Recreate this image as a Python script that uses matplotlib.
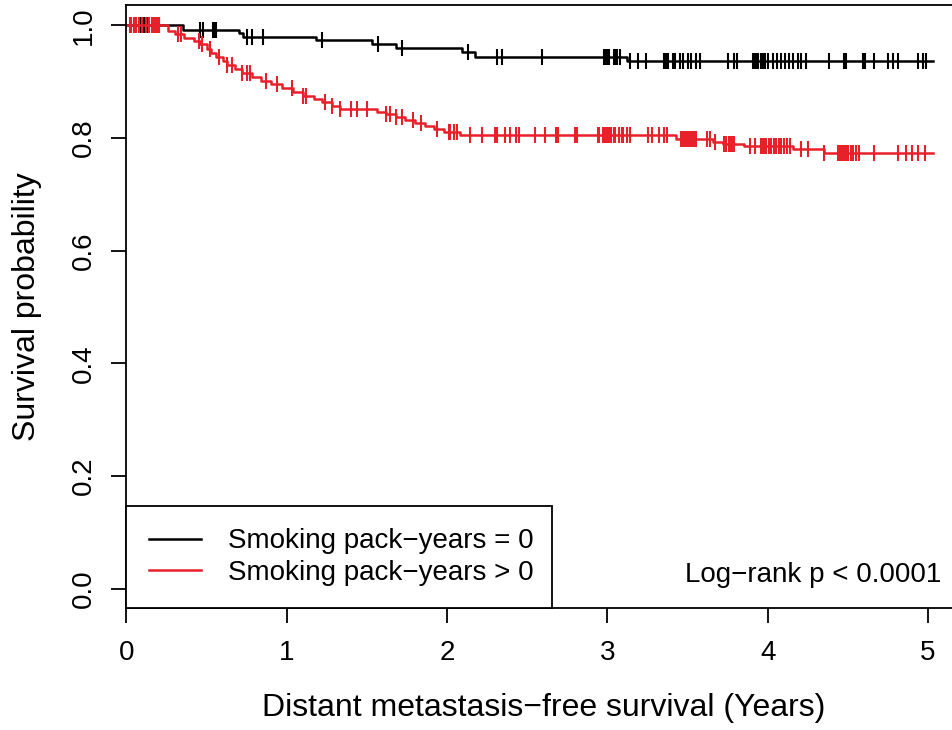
import numpy as np
import matplotlib
matplotlib.use('Agg')
import matplotlib.pyplot as plt


############################################################################
## data
############################################################################
## group 1: smoking pack-years = 0 (step times and survival after the step)
black_times = [0.0, 0.35, 0.70, 0.73, 1.18, 1.53, 1.68, 2.09, 2.175, 3.12]
black_surv  = [1.0, 0.992, 0.986, 0.980, 0.973, 0.967, 0.960, 0.952, 0.943, 0.936]
black_cens  = [0.05, 0.09, 0.095, 0.105, 0.115, 0.126, 0.19, 0.20,
               0.46, 0.48, 0.54, 0.55, 0.56, 0.75, 0.78, 0.85, 1.22, 1.57, 1.72,
               2.13, 2.31, 2.34, 2.59,
               2.98, 2.99, 3.00, 3.01, 3.04, 3.05, 3.06, 3.08, 3.14, 3.19, 3.24,
               3.35, 3.36, 3.37, 3.38, 3.41, 3.42, 3.45, 3.47, 3.50, 3.52, 3.55, 3.58,
               3.75, 3.79, 3.81, 3.91, 3.92, 3.93, 3.94, 3.96, 3.97, 3.98, 4.00,
               4.03, 4.06, 4.08, 4.11, 4.13, 4.16, 4.19, 4.21, 4.24,
               4.38, 4.475, 4.485, 4.595, 4.605, 4.66, 4.75, 4.78, 4.81,
               4.94, 4.97, 4.99]

## group 2: smoking pack-years > 0
red_times = [0.0, 0.26, 0.30, 0.36, 0.42, 0.46, 0.50, 0.53, 0.56, 0.60, 0.63,
             0.68, 0.72, 0.78, 0.84, 0.90, 0.97, 1.04, 1.10, 1.17, 1.22, 1.28,
             1.33, 1.56, 1.62, 1.68, 1.74, 1.80, 1.86, 1.92, 1.98, 2.08,
             3.43, 3.66, 3.72, 3.85, 4.16, 4.35]
red_surv  = [1.0, 0.990, 0.985, 0.978, 0.972, 0.966, 0.958, 0.951, 0.943, 0.936, 0.930,
             0.922, 0.915, 0.908, 0.901, 0.895, 0.888, 0.881, 0.875, 0.869, 0.863, 0.857,
             0.851, 0.846, 0.842, 0.837, 0.832, 0.827, 0.821, 0.816, 0.811, 0.806,
             0.799, 0.792, 0.789, 0.786, 0.780, 0.774]
red_cens  = [0.02, 0.03, 0.05, 0.06, 0.08, 0.10, 0.12, 0.14, 0.16, 0.17, 0.18, 0.19, 0.20,
             0.32, 0.34, 0.45, 0.47, 0.52, 0.58, 0.63, 0.66, 0.72, 0.75, 0.77, 0.87,
             0.94, 1.03, 1.10, 1.12, 1.24, 1.28,
             1.33, 1.40, 1.44, 1.50, 1.62, 1.645, 1.68, 1.72, 1.79, 1.84, 1.94,
             2.01, 2.02, 2.04, 2.06, 2.14, 2.22, 2.30, 2.31, 2.36, 2.39, 2.43, 2.45,
             2.55, 2.61, 2.68, 2.69, 2.80, 2.81,
             2.94, 2.95, 2.97, 2.98, 2.99, 3.00, 3.01, 3.02, 3.04, 3.05, 3.07, 3.09,
             3.10, 3.12, 3.14, 3.25, 3.28, 3.32, 3.35, 3.37,
             3.46, 3.47, 3.48, 3.49, 3.50, 3.51, 3.52, 3.53, 3.54, 3.55,
             3.62, 3.64, 3.67, 3.73, 3.74, 3.76, 3.77, 3.78, 3.79, 3.89, 3.92,
             3.96, 3.97, 3.98, 3.99, 4.01, 4.02, 4.04, 4.05, 4.07, 4.08, 4.10, 4.12, 4.14,
             4.21, 4.25, 4.35,
             4.44, 4.45, 4.46, 4.47, 4.48, 4.49, 4.50, 4.52, 4.53, 4.55, 4.57,
             4.66, 4.81, 4.86, 4.90, 4.94, 4.98]

end_time = 5.03
labels = ['Smoking pack\u2212years = 0', 'Smoking pack\u2212years > 0']
colors = ['black', '#e8202a']
pvalue_text = 'Log\u2212rank p < 0.0001'


############################################################################
## survival value of a step function at given times
############################################################################
def surv_at(times, surv, t):
    times = np.asarray(times)
    surv = np.asarray(surv)
    idx = np.searchsorted(times, np.asarray(t), side='right') - 1
    return surv[np.clip(idx, 0, None)]


############################################################################
## plot
############################################################################
plt.rcParams['font.family'] = ['Liberation Sans', 'DejaVu Sans']

fig = plt.figure(figsize=(9.53, 7.30), dpi=100)
ax = fig.add_axes([0.1327, 0.1671, 0.8748, 0.8261])

groups = [(black_times, black_surv, black_cens),
          (red_times, red_surv, red_cens)]

for (tt, ss, cc), col, lab in zip(groups, colors, labels):
    x = list(tt) + [end_time]
    y = list(ss) + [ss[-1]]
    ax.step(x, y, where='post', color=col, lw=1.8, label=lab)
    ax.plot(cc, surv_at(tt, ss, cc), linestyle='none', marker='|',
            markersize=12, markeredgewidth=1.5, color=col)

ax.set_xlim(0, 5.2)
ax.set_ylim(-0.034, 1.036)
ax.set_xticks([0, 1, 2, 3, 4, 5])
ax.set_yticks([0.0, 0.2, 0.4, 0.6, 0.8, 1.0])
ax.set_yticklabels(['0.0', '0.2', '0.4', '0.6', '0.8', '1.0'],
                   rotation=90, va='center')
ax.tick_params(axis='both', length=11, width=1.3, labelsize=20)
ax.tick_params(axis='x', pad=12)
ax.tick_params(axis='y', pad=10)
for sp in ax.spines.values():
    sp.set_linewidth(1.3)

ax.set_xlabel('Distant metastasis\u2212free survival (Years)', fontsize=23, va='center')
ax.xaxis.set_label_coords(0.5, -0.166)
ax.set_ylabel('Survival probability', fontsize=23, va='center')
ax.yaxis.set_label_coords(-0.119, 0.5)

## legend box stretched to the width seen in the picture
leg = ax.legend(loc='lower left', bbox_to_anchor=(0, 0, 0.510, 0.2), mode='expand',
                borderaxespad=0, fontsize=20, fancybox=False, edgecolor='black',
                framealpha=1, handlelength=1.9, handletextpad=0.97, borderpad=0.8,
                labelspacing=0.2)
leg.get_frame().set_linewidth(1.3)

ax.text(5.084, 0.024, pvalue_text, fontsize=20, ha='right', va='center')

fig.savefig('out.png', dpi=100, facecolor='white')
